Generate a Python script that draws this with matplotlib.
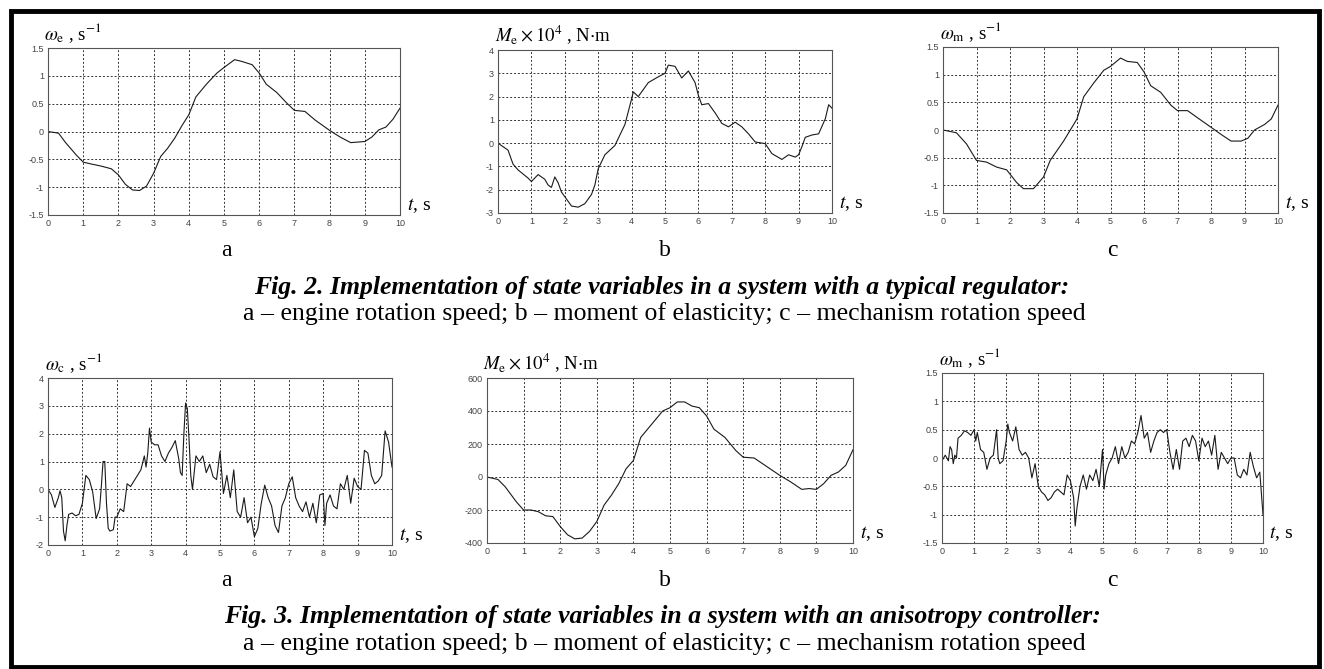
import matplotlib
matplotlib.use("Agg")
import matplotlib.pyplot as plt
from matplotlib.ticker import FuncFormatter, MultipleLocator
from matplotlib.patches import Rectangle

plt.rcParams['mathtext.fontset'] = 'stix'

# ---------------- data ----------------
# Fig.2 a: engine rotation speed (typical regulator)
t2a = [0, 0.3, 0.5, 0.8, 1.0, 1.2, 1.5, 1.8, 2.0, 2.2, 2.4, 2.6, 2.8, 3.0, 3.2, 3.4, 3.6, 3.8,
       4.0, 4.2, 4.5, 4.8, 5.0, 5.3, 5.5, 5.8, 6.0, 6.2, 6.5, 6.8, 7.0, 7.3, 7.6, 8.0, 8.3,
       8.6, 9.0, 9.2, 9.4, 9.6, 9.8, 10.0]
w2a = [0, -0.03, -0.2, -0.42, -0.55, -0.58, -0.62, -0.67, -0.78, -0.95, -1.05, -1.06, -0.98,
       -0.75, -0.45, -0.3, -0.12, 0.1, 0.3, 0.62, 0.85, 1.05, 1.15, 1.29, 1.26, 1.2, 1.05, 0.85,
       0.7, 0.5, 0.38, 0.36, 0.2, 0.02, -0.1, -0.2, -0.18, -0.1, 0.03, 0.08, 0.22, 0.42]

# Fig.2 b: moment of elasticity
t2b = [0, 0.2, 0.3, 0.45, 0.6, 0.9, 1.0, 1.2, 1.4, 1.5, 1.6, 1.7, 1.8, 1.9, 2.0, 2.2, 2.4, 2.6,
       2.8, 2.9, 3.0, 3.2, 3.5, 3.8, 4.0, 4.05, 4.2, 4.5, 4.8, 5.0, 5.1, 5.3, 5.5, 5.7, 5.9, 6.0,
       6.1, 6.3, 6.5, 6.7, 6.9, 7.1, 7.3, 7.5, 7.7, 8.0, 8.2, 8.5, 8.7, 8.9, 9.0, 9.1, 9.2, 9.4,
       9.6, 9.8, 9.9, 10.0]
m2b = [0, -0.2, -0.3, -0.9, -1.15, -1.5, -1.65, -1.35, -1.55, -1.8, -1.9, -1.45, -1.7, -2.1,
       -2.3, -2.7, -2.75, -2.6, -2.2, -1.8, -1.1, -0.5, -0.1, 0.8, 1.9, 2.2, 2.0, 2.6, 2.85, 3.0,
       3.35, 3.3, 2.8, 3.1, 2.6, 2.05, 1.65, 1.7, 1.3, 0.85, 0.7, 0.9, 0.7, 0.4, 0.05, -0.02,
       -0.45, -0.7, -0.5, -0.6, -0.5, -0.15, 0.25, 0.35, 0.4, 1.05, 1.65, 1.5]

# Fig.2 c: mechanism rotation speed
t2c = [0, 0.4, 0.7, 1.0, 1.3, 1.6, 1.9, 2.2, 2.4, 2.7, 3.0, 3.2, 3.6, 4.0, 4.2, 4.5, 4.8, 5.0,
       5.3, 5.5, 5.8, 6.0, 6.2, 6.5, 6.8, 7.0, 7.3, 7.6, 8.0, 8.3, 8.6, 8.9, 9.1, 9.3, 9.6, 9.8,
       10.0]
w2c = [0, -0.05, -0.25, -0.55, -0.58, -0.67, -0.72, -0.95, -1.06, -1.06, -0.85, -0.55, -0.2,
       0.2, 0.6, 0.85, 1.08, 1.15, 1.3, 1.24, 1.22, 1.05, 0.8, 0.68, 0.45, 0.35, 0.35, 0.22,
       0.05, -0.08, -0.2, -0.2, -0.15, 0.0, 0.1, 0.2, 0.45]

# Fig.3 a: engine rotation speed (anisotropy controller)
t3a = [0.0, 0.1, 0.2, 0.3, 0.35, 0.4, 0.45, 0.5, 0.55, 0.6, 0.7, 0.8, 0.9, 1.0, 1.05, 1.1, 1.2,
       1.3, 1.4, 1.5, 1.55, 1.6, 1.65, 1.7, 1.75, 1.8, 1.9, 1.95, 2.0, 2.1, 2.2, 2.3, 2.4, 2.5,
       2.6, 2.7, 2.8, 2.85, 2.9, 2.95, 3.0, 3.1, 3.2, 3.3, 3.4, 3.5, 3.6, 3.7, 3.8, 3.85, 3.9,
       3.95, 4.0, 4.05, 4.1, 4.15, 4.2, 4.3, 4.4, 4.5, 4.6, 4.7, 4.8, 4.9, 5.0, 5.05, 5.1, 5.2,
       5.3, 5.4, 5.5, 5.6, 5.7, 5.8, 5.9, 6.0, 6.1, 6.2, 6.3, 6.4, 6.5, 6.6, 6.7, 6.8, 6.9, 7.0,
       7.1, 7.2, 7.3, 7.4, 7.5, 7.6, 7.7, 7.8, 7.9, 8.0, 8.05, 8.1, 8.2, 8.3, 8.4, 8.5, 8.6, 8.7,
       8.8, 8.9, 9.0, 9.1, 9.2, 9.3, 9.4, 9.5, 9.6, 9.7, 9.8, 9.9, 10.0]
w3a = [0, -0.2, -0.65, -0.3, -0.05, -0.3, -1.5, -1.85, -1.3, -0.9, -0.85, -0.95, -0.9, -0.5,
       0.0, 0.5, 0.35, -0.1, -1.05, -0.7, 0.1, 1.0, 1.0, -0.5, -1.4, -1.5, -1.45, -1.0, -1.0,
       -0.7, -0.8, 0.2, 0.1, 0.3, 0.5, 0.7, 1.2, 0.8, 1.3, 2.2, 1.7, 1.6, 1.6, 1.2, 1.0, 1.3,
       1.5, 1.75, 1.1, 0.6, 0.5, 2.0, 3.1, 2.9, 1.8, 0.5, 0.0, 1.2, 1.0, 1.2, 0.6, 0.9, 0.45,
       0.35, 1.35, 0.6, -0.15, 0.5, -0.3, 0.7, -0.8, -1.0, -0.3, -1.2, -1.0, -1.7, -1.4, -0.5,
       0.15, -0.3, -0.6, -1.3, -1.55, -0.6, -0.3, 0.2, 0.45, -0.3, -0.6, -0.8, -0.45, -1.0,
       -0.5, -1.2, -0.2, -0.15, -1.3, -0.5, -0.2, -0.6, -0.7, 0.2, 0.0, 0.5, -0.5, 0.4, 0.1,
       0.0, 1.4, 1.3, 0.5, 0.2, 0.3, 0.5, 2.1, 1.7, 0.8]

# Fig.3 b: moment of elasticity
t3b = [0, 0.3, 0.5, 0.8, 1.0, 1.2, 1.4, 1.6, 1.8, 2.0, 2.2, 2.4, 2.6, 2.8, 3.0, 3.2, 3.4, 3.6,
       3.8, 4.0, 4.2, 4.5, 4.8, 5.0, 5.2, 5.4, 5.6, 5.8, 6.0, 6.2, 6.5, 6.8, 7.0, 7.3, 7.6, 8.0,
       8.3, 8.6, 8.8, 9.0, 9.2, 9.4, 9.6, 9.8, 10.0]
m3b = [0, -15, -60, -150, -200, -200, -210, -235, -240, -300, -350, -375, -370, -330, -270,
       -170, -110, -40, 50, 100, 240, 320, 400, 420, 455, 455, 430, 420, 370, 290, 240, 160,
       120, 115, 70, 10, -30, -75, -70, -75, -40, 10, 30, 70, 165]

# Fig.3 c: mechanism rotation speed
t3c = [0, 0.1, 0.2, 0.25, 0.3, 0.35, 0.4, 0.45, 0.5, 0.6, 0.7, 0.8, 0.9, 1.0, 1.05, 1.1, 1.2,
       1.3, 1.4, 1.5, 1.6, 1.7, 1.75, 1.8, 1.9, 2.0, 2.05, 2.1, 2.2, 2.3, 2.4, 2.5, 2.6, 2.7,
       2.8, 2.9, 3.0, 3.1, 3.2, 3.3, 3.4, 3.5, 3.6, 3.7, 3.8, 3.9, 4.0, 4.1, 4.15, 4.2, 4.3,
       4.4, 4.5, 4.6, 4.7, 4.8, 4.9, 5.0, 5.05, 5.1, 5.2, 5.3, 5.4, 5.5, 5.6, 5.7, 5.8, 5.9,
       6.0, 6.1, 6.2, 6.3, 6.4, 6.5, 6.6, 6.7, 6.8, 6.9, 7.0, 7.1, 7.2, 7.3, 7.4, 7.5, 7.6, 7.7,
       7.8, 7.9, 8.0, 8.1, 8.2, 8.3, 8.4, 8.5, 8.6, 8.7, 8.8, 8.9, 9.0, 9.1, 9.2, 9.3, 9.4, 9.5,
       9.6, 9.7, 9.8, 9.9, 10.0]
w3c = [-0.05, 0.05, -0.05, 0.2, 0.15, -0.1, 0.05, 0.0, 0.35, 0.4, 0.48, 0.45, 0.4, 0.5, 0.3,
       0.45, 0.15, 0.1, -0.2, 0.0, 0.05, 0.5, 0.0, -0.1, -0.05, 0.3, 0.6, 0.45, 0.3, 0.55,
       0.15, 0.05, 0.1, 0.0, -0.35, -0.1, -0.5, -0.6, -0.65, -0.75, -0.7, -0.6, -0.55, -0.6,
       -0.65, -0.3, -0.4, -0.7, -1.2, -0.9, -0.5, -0.3, -0.55, -0.3, -0.4, -0.2, -0.5, 0.15,
       -0.55, -0.3, -0.1, 0.0, 0.2, -0.1, 0.2, 0.0, 0.1, 0.3, 0.25, 0.45, 0.75, 0.35, 0.45,
       0.1, 0.3, 0.45, 0.5, 0.45, 0.5, 0.1, -0.2, 0.15, -0.2, 0.3, 0.35, 0.2, 0.4, 0.3, -0.05,
       0.35, 0.2, 0.3, 0.05, 0.4, -0.2, 0.1, 0.0, -0.1, 0.0, 0.0, -0.3, -0.35, -0.2, -0.3, 0.1,
       -0.15, -0.35, -0.25, -1.0]

xticks = list(range(0, 11))
ylabels = [r'$\omega_{\rm e}$ , s$^{-1}$', r'$M_{\rm e}\times10^4$ , N$\cdot$m', r'$\omega_{\rm m}$ , s$^{-1}$',
           r'$\omega_{\rm c}$ , s$^{-1}$', r'$M_{\rm e}\times10^4$ , N$\cdot$m', r'$\omega_{\rm m}$ , s$^{-1}$']
letters = ['a', 'b', 'c']
cap2 = 'Fig. 2. Implementation of state variables in a system with a typical regulator:'
cap3 = 'Fig. 3. Implementation of state variables in a system with an anisotropy controller:'
subcap = 'a \u2013 engine rotation speed; b \u2013 moment of elasticity; c \u2013 mechanism rotation speed'

W, H = 1324, 669
fig = plt.figure(figsize=(W / 100, H / 100), dpi=100)
fig.patch.set_facecolor('white')

def rect(x0, x1, y0, y1):
    return [x0 / W, 1 - y1 / H, (x1 - x0) / W, (y1 - y0) / H]

panels = [
    (rect(48, 400, 48, 215), t2a, w2a, (-1.5, 1.5), 0.5, ylabels[0]),
    (rect(498, 832, 50, 213), t2b, m2b, (-3, 4), 1, ylabels[1]),
    (rect(943, 1278, 47, 213), t2c, w2c, (-1.5, 1.5), 0.5, ylabels[2]),
    (rect(48, 392, 378, 545), t3a, w3a, (-2, 4), 1, ylabels[3]),
    (rect(487, 853, 378, 543), t3b, m3b, (-400, 600), 200, ylabels[4]),
    (rect(942, 1263, 373, 543), t3c, w3c, (-1.5, 1.5), 0.5, ylabels[5]),
]

fmt = FuncFormatter(lambda v, p: '%g' % v)
for (r, t, y, ylim, step, lab) in panels:
    ax = fig.add_axes(r)
    ax.plot(t, y, color='#1a1a1a', lw=0.8)
    ax.set_xlim(0, 10)
    ax.set_ylim(*ylim)
    ax.set_xticks(xticks)
    ax.yaxis.set_major_locator(MultipleLocator(step))
    ax.yaxis.set_major_formatter(fmt)
    ax.xaxis.set_major_formatter(fmt)
    ax.grid(True, linestyle=(0, (2, 2)), color='#333333', lw=0.7)
    ax.tick_params(length=0, labelsize=6.5, labelcolor='#444444', pad=3)
    for lbl in ax.get_xticklabels() + ax.get_yticklabels():
        lbl.set_family('Liberation Sans')
    for s in ax.spines.values():
        s.set_color('#555555')
        s.set_linewidth(0.8)
    ax.text(-0.01, 1.02, lab, transform=ax.transAxes, ha='left', va='bottom',
            fontsize=13.5, family='Liberation Serif')
    ax.text(1.02, 0.0, r'$t$, s', transform=ax.transAxes, ha='left', va='bottom',
            fontsize=14, family='Liberation Serif')

# panel letters and captions
centers = [226, 665, 1112]
for row_off in (0, 330):
    for cx, L in zip(centers, letters):
        fig.text(cx / W, 1 - (250 + row_off) / H, L, ha='center', va='center',
                 fontsize=17, family='Liberation Serif')

capsize = 18.5
fig.text(662 / W, 1 - 287 / H, cap2, ha='center', va='center', fontsize=capsize,
         family='Liberation Serif', weight='bold', style='italic')
fig.text(664 / W, 1 - 314 / H, subcap, ha='center', va='center', fontsize=capsize,
         family='Liberation Serif')
fig.text(662 / W, 1 - 617 / H, cap3, ha='center', va='center', fontsize=capsize,
         family='Liberation Serif', weight='bold', style='italic')
fig.text(664 / W, 1 - 644 / H, subcap, ha='center', va='center', fontsize=capsize,
         family='Liberation Serif')

# outer frame
fig.add_artist(Rectangle((11 / W, 2 / H), 1308 / W, 656 / H, transform=fig.transFigure,
                         fill=False, edgecolor='black', lw=3.5))

fig.savefig('out.png', dpi=100, facecolor='white')
